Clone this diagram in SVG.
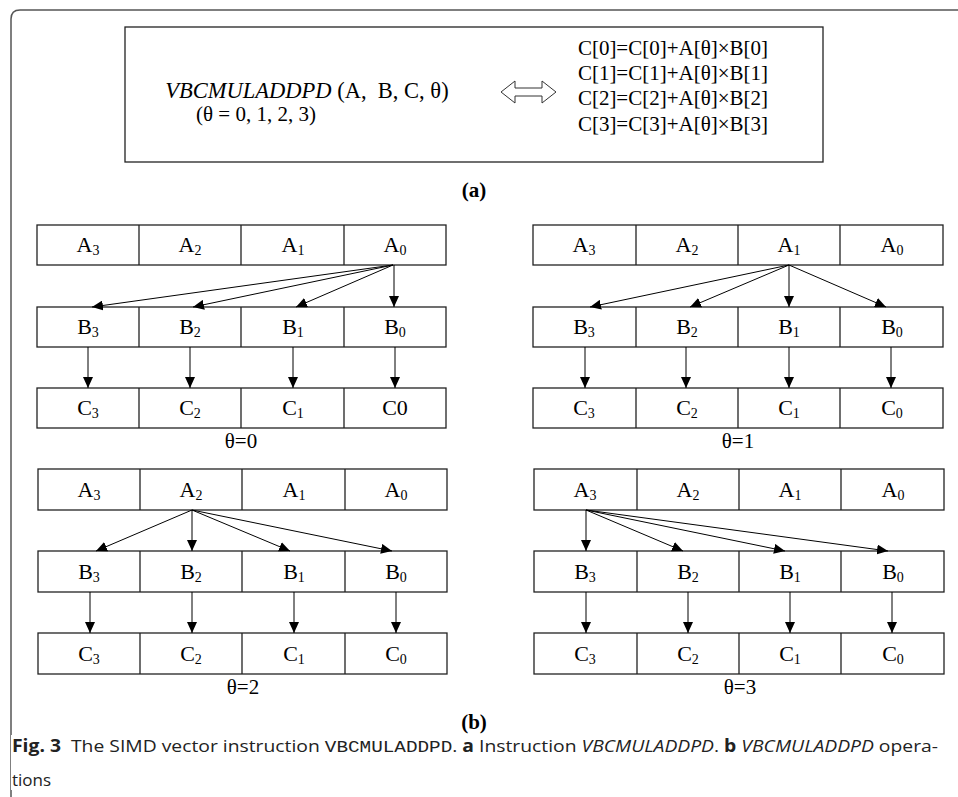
<svg xmlns="http://www.w3.org/2000/svg" width="958" height="797" viewBox="0 0 958 797">
<style>
.t{font-family:"Liberation Serif","Times New Roman",serif;font-size:21px;fill:#000}
.c{font-size:22px}
.sub{font-size:14px}
.cell{fill:#fff;stroke:#222;stroke-width:1.3}
.ln{stroke:#000;stroke-width:1;fill:none;marker-end:url(#ah)}
.cap{font-family:"Open Sans","Noto Sans",sans-serif;font-size:17px;fill:#222}
</style>
<defs>
<marker id="ah" markerUnits="userSpaceOnUse" markerWidth="12" markerHeight="10" refX="11" refY="5" orient="auto">
<path d="M0,0 L11,5 L0,10 Z" fill="#000"/>
</marker>
</defs>
<rect x="0" y="0" width="958" height="797" fill="#fff"/>
<path d="M11,797 L11,19 Q11,10 20,10 L958,10" fill="none" stroke="#555" stroke-width="1.5"/>

<g id="instr">
<rect x="125" y="27" width="698" height="135" fill="#fff" stroke="#222" stroke-width="1.3"/>
<text class="t" x="307" y="98" text-anchor="middle" xml:space="preserve" style="font-size:22.5px"><tspan font-style="italic">VBCMULADDPD</tspan> (A,  B, C, θ)</text>
<text class="t" x="256" y="121" text-anchor="middle">(θ = 0, 1, 2, 3)</text>
<polygon points="501,92 515,81 515,88 542,88 542,81 556,92 542,103 542,96 515,96 515,103" fill="#fff" stroke="#333" stroke-width="1"/>
<text class="t" x="673" y="55" text-anchor="middle">C[0]=C[0]+A[θ]×B[0]</text>
<text class="t" x="673" y="80" text-anchor="middle">C[1]=C[1]+A[θ]×B[1]</text>
<text class="t" x="673" y="105" text-anchor="middle">C[2]=C[2]+A[θ]×B[2]</text>
<text class="t" x="673" y="131" text-anchor="middle">C[3]=C[3]+A[θ]×B[3]</text>
</g>
<text class="t" x="474" y="197" text-anchor="middle" font-weight="bold">(a)</text>

<g id="p1">
<g id="p1A">
<rect class="cell" x="37" y="225" width="409" height="40"/>
<path d="M139,225V265M241,225V265M344,225V265" stroke="#222" stroke-width="1.3"/>
<text class="t c" x="88" y="252" text-anchor="middle">A<tspan class="sub" dy="3">3</tspan></text>
<text class="t c" x="190" y="252" text-anchor="middle">A<tspan class="sub" dy="3">2</tspan></text>
<text class="t c" x="293" y="252" text-anchor="middle">A<tspan class="sub" dy="3">1</tspan></text>
<text class="t c" x="395" y="252" text-anchor="middle">A<tspan class="sub" dy="3">0</tspan></text>
</g>
<g id="p1B">
<rect class="cell" x="37" y="307" width="409" height="40"/>
<path d="M139,307V347M241,307V347M344,307V347" stroke="#222" stroke-width="1.3"/>
<text class="t c" x="88" y="334" text-anchor="middle">B<tspan class="sub" dy="3">3</tspan></text>
<text class="t c" x="190" y="334" text-anchor="middle">B<tspan class="sub" dy="3">2</tspan></text>
<text class="t c" x="293" y="334" text-anchor="middle">B<tspan class="sub" dy="3">1</tspan></text>
<text class="t c" x="395" y="334" text-anchor="middle">B<tspan class="sub" dy="3">0</tspan></text>
</g>
<g id="p1C">
<rect class="cell" x="37" y="388" width="409" height="40"/>
<path d="M139,388V428M241,388V428M344,388V428" stroke="#222" stroke-width="1.3"/>
<text class="t c" x="88" y="415" text-anchor="middle">C<tspan class="sub" dy="3">3</tspan></text>
<text class="t c" x="190" y="415" text-anchor="middle">C<tspan class="sub" dy="3">2</tspan></text>
<text class="t c" x="293" y="415" text-anchor="middle">C<tspan class="sub" dy="3">1</tspan></text>
<text class="t c" x="395" y="415" text-anchor="middle">C0</text>
</g>
<text class="t" x="241" y="448" text-anchor="middle">θ=0</text>
</g>

<g id="p2">
<g id="p2A">
<rect class="cell" x="533" y="225" width="410" height="40"/>
<path d="M636,225V265M738,225V265M840,225V265" stroke="#222" stroke-width="1.3"/>
<text class="t c" x="584" y="252" text-anchor="middle">A<tspan class="sub" dy="3">3</tspan></text>
<text class="t c" x="687" y="252" text-anchor="middle">A<tspan class="sub" dy="3">2</tspan></text>
<text class="t c" x="789" y="252" text-anchor="middle">A<tspan class="sub" dy="3">1</tspan></text>
<text class="t c" x="892" y="252" text-anchor="middle">A<tspan class="sub" dy="3">0</tspan></text>
</g>
<g id="p2B">
<rect class="cell" x="533" y="307" width="410" height="40"/>
<path d="M636,307V347M738,307V347M840,307V347" stroke="#222" stroke-width="1.3"/>
<text class="t c" x="584" y="334" text-anchor="middle">B<tspan class="sub" dy="3">3</tspan></text>
<text class="t c" x="687" y="334" text-anchor="middle">B<tspan class="sub" dy="3">2</tspan></text>
<text class="t c" x="789" y="334" text-anchor="middle">B<tspan class="sub" dy="3">1</tspan></text>
<text class="t c" x="892" y="334" text-anchor="middle">B<tspan class="sub" dy="3">0</tspan></text>
</g>
<g id="p2C">
<rect class="cell" x="533" y="388" width="410" height="40"/>
<path d="M636,388V428M738,388V428M840,388V428" stroke="#222" stroke-width="1.3"/>
<text class="t c" x="584" y="415" text-anchor="middle">C<tspan class="sub" dy="3">3</tspan></text>
<text class="t c" x="687" y="415" text-anchor="middle">C<tspan class="sub" dy="3">2</tspan></text>
<text class="t c" x="789" y="415" text-anchor="middle">C<tspan class="sub" dy="3">1</tspan></text>
<text class="t c" x="892" y="415" text-anchor="middle">C<tspan class="sub" dy="3">0</tspan></text>
</g>
<text class="t" x="738" y="448" text-anchor="middle">θ=1</text>
</g>

<g id="p3">
<g id="p3A">
<rect class="cell" x="38" y="469" width="409" height="41"/>
<path d="M140,469V510M242,469V510M345,469V510" stroke="#222" stroke-width="1.3"/>
<text class="t c" x="89" y="497" text-anchor="middle">A<tspan class="sub" dy="3">3</tspan></text>
<text class="t c" x="191" y="497" text-anchor="middle">A<tspan class="sub" dy="3">2</tspan></text>
<text class="t c" x="294" y="497" text-anchor="middle">A<tspan class="sub" dy="3">1</tspan></text>
<text class="t c" x="396" y="497" text-anchor="middle">A<tspan class="sub" dy="3">0</tspan></text>
</g>
<g id="p3B">
<rect class="cell" x="38" y="551" width="409" height="41"/>
<path d="M140,551V592M242,551V592M345,551V592" stroke="#222" stroke-width="1.3"/>
<text class="t c" x="89" y="579" text-anchor="middle">B<tspan class="sub" dy="3">3</tspan></text>
<text class="t c" x="191" y="579" text-anchor="middle">B<tspan class="sub" dy="3">2</tspan></text>
<text class="t c" x="294" y="579" text-anchor="middle">B<tspan class="sub" dy="3">1</tspan></text>
<text class="t c" x="396" y="579" text-anchor="middle">B<tspan class="sub" dy="3">0</tspan></text>
</g>
<g id="p3C">
<rect class="cell" x="38" y="633" width="409" height="41"/>
<path d="M140,633V674M242,633V674M345,633V674" stroke="#222" stroke-width="1.3"/>
<text class="t c" x="89" y="661" text-anchor="middle">C<tspan class="sub" dy="3">3</tspan></text>
<text class="t c" x="191" y="661" text-anchor="middle">C<tspan class="sub" dy="3">2</tspan></text>
<text class="t c" x="294" y="661" text-anchor="middle">C<tspan class="sub" dy="3">1</tspan></text>
<text class="t c" x="396" y="661" text-anchor="middle">C<tspan class="sub" dy="3">0</tspan></text>
</g>
<text class="t" x="243" y="694" text-anchor="middle">θ=2</text>
</g>

<g id="p4">
<g id="p4A">
<rect class="cell" x="534" y="469" width="410" height="41"/>
<path d="M637,469V510M739,469V510M841,469V510" stroke="#222" stroke-width="1.3"/>
<text class="t c" x="585" y="497" text-anchor="middle">A<tspan class="sub" dy="3">3</tspan></text>
<text class="t c" x="688" y="497" text-anchor="middle">A<tspan class="sub" dy="3">2</tspan></text>
<text class="t c" x="790" y="497" text-anchor="middle">A<tspan class="sub" dy="3">1</tspan></text>
<text class="t c" x="893" y="497" text-anchor="middle">A<tspan class="sub" dy="3">0</tspan></text>
</g>
<g id="p4B">
<rect class="cell" x="534" y="551" width="410" height="41"/>
<path d="M637,551V592M739,551V592M841,551V592" stroke="#222" stroke-width="1.3"/>
<text class="t c" x="585" y="579" text-anchor="middle">B<tspan class="sub" dy="3">3</tspan></text>
<text class="t c" x="688" y="579" text-anchor="middle">B<tspan class="sub" dy="3">2</tspan></text>
<text class="t c" x="790" y="579" text-anchor="middle">B<tspan class="sub" dy="3">1</tspan></text>
<text class="t c" x="893" y="579" text-anchor="middle">B<tspan class="sub" dy="3">0</tspan></text>
</g>
<g id="p4C">
<rect class="cell" x="534" y="633" width="410" height="41"/>
<path d="M637,633V674M739,633V674M841,633V674" stroke="#222" stroke-width="1.3"/>
<text class="t c" x="585" y="661" text-anchor="middle">C<tspan class="sub" dy="3">3</tspan></text>
<text class="t c" x="688" y="661" text-anchor="middle">C<tspan class="sub" dy="3">2</tspan></text>
<text class="t c" x="790" y="661" text-anchor="middle">C<tspan class="sub" dy="3">1</tspan></text>
<text class="t c" x="893" y="661" text-anchor="middle">C<tspan class="sub" dy="3">0</tspan></text>
</g>
<text class="t" x="740" y="694" text-anchor="middle">θ=3</text>
</g>

<g id="connectors">
<line class="ln" x1="393" y1="265" x2="92" y2="307"/>
<line class="ln" x1="393" y1="265" x2="193" y2="307"/>
<line class="ln" x1="393" y1="265" x2="296" y2="307"/>
<line class="ln" x1="394" y1="265" x2="394" y2="307"/>
<line class="ln" x1="88" y1="347" x2="88" y2="388"/>
<line class="ln" x1="190" y1="347" x2="190" y2="388"/>
<line class="ln" x1="293" y1="347" x2="293" y2="388"/>
<line class="ln" x1="395" y1="347" x2="395" y2="388"/>
<line class="ln" x1="789" y1="265" x2="590" y2="307"/>
<line class="ln" x1="789" y1="265" x2="690" y2="307"/>
<line class="ln" x1="789" y1="265" x2="789" y2="307"/>
<line class="ln" x1="789" y1="265" x2="886" y2="307"/>
<line class="ln" x1="585" y1="347" x2="585" y2="388"/>
<line class="ln" x1="686" y1="347" x2="686" y2="388"/>
<line class="ln" x1="789" y1="347" x2="789" y2="388"/>
<line class="ln" x1="891" y1="347" x2="891" y2="388"/>
<line class="ln" x1="192" y1="510" x2="96" y2="551"/>
<line class="ln" x1="192" y1="510" x2="192" y2="551"/>
<line class="ln" x1="192" y1="510" x2="290" y2="551"/>
<line class="ln" x1="192" y1="510" x2="392" y2="551"/>
<line class="ln" x1="90" y1="592" x2="90" y2="633"/>
<line class="ln" x1="192" y1="592" x2="192" y2="633"/>
<line class="ln" x1="294" y1="592" x2="294" y2="633"/>
<line class="ln" x1="396" y1="592" x2="396" y2="633"/>
<line class="ln" x1="586" y1="510" x2="586" y2="551"/>
<line class="ln" x1="586" y1="510" x2="683" y2="551"/>
<line class="ln" x1="586" y1="510" x2="785" y2="551"/>
<line class="ln" x1="586" y1="510" x2="888" y2="551"/>
<line class="ln" x1="586" y1="592" x2="586" y2="633"/>
<line class="ln" x1="688" y1="592" x2="688" y2="633"/>
<line class="ln" x1="790" y1="592" x2="790" y2="633"/>
<line class="ln" x1="892" y1="592" x2="892" y2="633"/>
</g>

<text class="t" x="474" y="729" text-anchor="middle" font-weight="bold">(b)</text>

<g id="caption">
<rect x="11" y="735" width="940" height="55" fill="#fff"/>
<text class="cap" x="12" y="752" textLength="926" lengthAdjust="spacingAndGlyphs" xml:space="preserve"><tspan font-weight="bold">Fig. 3</tspan>  The SIMD vector instruction <tspan font-family="'Liberation Mono','Courier New',monospace">VBCMULADDPD</tspan>. <tspan font-weight="bold">a</tspan> Instruction <tspan font-style="italic">VBCMULADDPD</tspan>. <tspan font-weight="bold">b</tspan> <tspan font-style="italic">VBCMULADDPD</tspan> opera-</text>
<text class="cap" x="12" y="786">tions</text>
</g>
</svg>
